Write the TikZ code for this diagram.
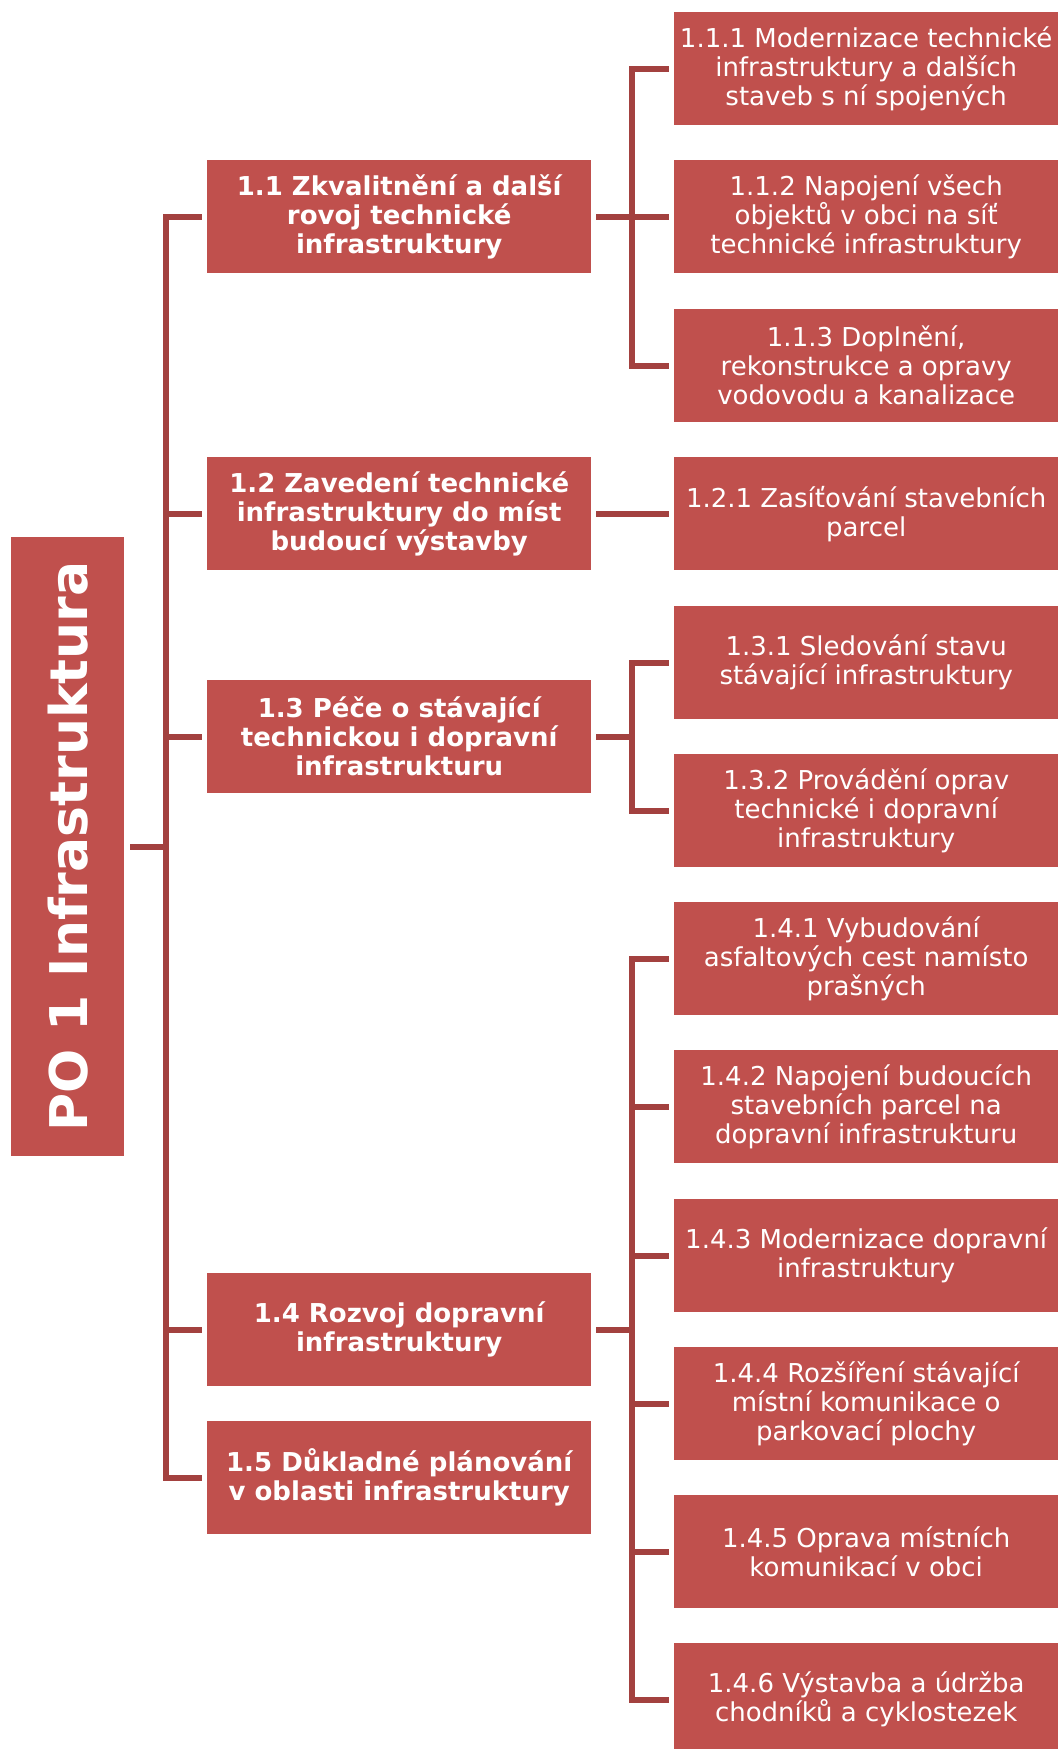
\documentclass[tikz,border=0pt]{standalone}
\usepackage{fontspec}
\setmainfont{DejaVu Sans}
\definecolor{boxred}{HTML}{C0504D}
\definecolor{linered}{HTML}{A3413F}
\tikzset{
  box/.style={fill=boxred, text=white, minimum width=384pt, minimum height=113pt,
    inner sep=0pt, align=center, anchor=north west, font=\fontsize{26}{29}\selectfont},
  lone/.style={box, font=\fontsize{26}{29}\selectfont\bfseries},
  titlebox/.style={fill=boxred, text=white, minimum width=113pt, minimum height=619pt,
    inner sep=0pt, anchor=north west},
  conn/.style={draw=linered, line width=6pt}
}
\begin{document}
\begin{tikzpicture}[x=1pt,y=-1pt]
\useasboundingbox (0,0) rectangle (1061,1749);
% title
\node[titlebox] (po) at (11,537) {\rotatebox{90}{\fontsize{52}{60}\selectfont\bfseries PO 1 Infrastruktura}};
% level 1
\node[lone] (b11) at (207,160)  {1.1 Zkvalitnění a další\\rovoj technické\\infrastruktury};
\node[lone] (b12) at (207,457)  {1.2 Zavedení technické\\infrastruktury do míst\\budoucí výstavby};
\node[lone] (b13) at (207,680)  {1.3 Péče o stávající\\technickou i dopravní\\infrastrukturu};
\node[lone] (b14) at (207,1273) {1.4 Rozvoj dopravní\\infrastruktury};
\node[lone] (b15) at (207,1421) {1.5 Důkladné plánování\\v oblasti infrastruktury};
% level 2
\node[box] (b111) at (674,12)   {1.1.1 Modernizace technické\\infrastruktury a dalších\\staveb s ní spojených};
\node[box] (b112) at (674,160)  {1.1.2 Napojení všech\\objektů v obci na síť\\technické infrastruktury};
\node[box] (b113) at (674,309)  {1.1.3 Doplnění,\\rekonstrukce a opravy\\vodovodu a kanalizace};
\node[box] (b121) at (674,457)  {1.2.1 Zasíťování stavebních\\parcel};
\node[box] (b131) at (674,606)  {1.3.1 Sledování stavu\\stávající infrastruktury};
\node[box] (b132) at (674,754)  {1.3.2 Provádění oprav\\technické i dopravní\\infrastruktury};
\node[box] (b141) at (674,902)  {1.4.1 Vybudování\\asfaltových cest namísto\\prašných};
\node[box] (b142) at (674,1050) {1.4.2 Napojení budoucích\\stavebních parcel na\\dopravní infrastrukturu};
\node[box] (b143) at (674,1199) {1.4.3 Modernizace dopravní\\infrastruktury};
\node[box] (b144) at (674,1347) {1.4.4 Rozšíření stávající\\místní komunikace o\\parkovací plochy};
\node[box] (b145) at (674,1495) {1.4.5 Oprava místních\\komunikací v obci};
\node[box] (b146) at (674,1643) {1.4.6 Výstavba a údržba\\chodníků a cyklostezek};
% main connectors
\foreach \c in {b11,b12,b13,b14,b15}
  \draw[conn] ([xshift=6pt]po.east) -- ++(36,0) |- ([xshift=-5pt]\c.west);
% level-1 to level-2 connectors
\foreach \c in {b111,b112,b113}
  \draw[conn] ([xshift=5pt]b11.east) -- ++(36,0) |- ([xshift=-5pt]\c.west);
\draw[conn] ([xshift=5pt]b12.east) -- ([xshift=-5pt]b121.west);
\foreach \c in {b131,b132}
  \draw[conn] ([xshift=5pt]b13.east) -- ++(36,0) |- ([xshift=-5pt]\c.west);
\foreach \c in {b141,b142,b143,b144,b145,b146}
  \draw[conn] ([xshift=5pt]b14.east) -- ++(36,0) |- ([xshift=-5pt]\c.west);
\end{tikzpicture}
\end{document}
